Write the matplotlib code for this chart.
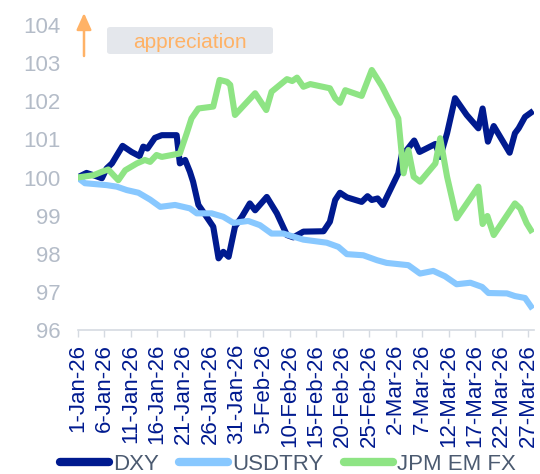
import matplotlib
matplotlib.use("Agg")
import matplotlib.pyplot as plt
from matplotlib.patches import FancyBboxPatch

plt.rcParams['font.family'] = ['Liberation Sans', 'DejaVu Sans']

# day offsets from 1-Jan-26 and index values (1-Jan-26 = 100)
dxy_day = [0, 1.7, 3, 4.6, 5.5, 6.5, 8.5, 10.2, 11.7, 12.4, 13.2, 14.6, 15.9, 18.7,
           19.3, 20.3, 21.2, 21.8, 22.8, 23.7, 25.6, 26.6, 27.5, 28.5, 29.7, 31,
           32.5, 33.5, 35.7, 37.6, 39.5, 40.7, 42.6, 46.4, 47.6, 48.6, 49.5, 50.8,
           53.6, 54.7, 55.5, 56.6, 57.6, 60.5, 61.2, 62.1, 63.5, 64.5, 67.5, 68.4,
           69.7, 71.2, 73.4, 75.6, 76.4, 77.4, 78.5, 81.5, 82.5, 83.2, 84.4, 85.5]
dxy_val = [100.0, 100.12, 100.06, 99.98, 100.24, 100.37, 100.83, 100.67, 100.56, 100.81,
           100.76, 101.04, 101.11, 101.11, 100.37, 100.46, 100.15, 99.89, 99.28, 99.10,
           98.71, 97.88, 98.05, 97.92, 98.71, 98.97, 99.32, 99.14, 99.49, 99.06,
           98.49, 98.43, 98.58, 98.59, 98.84, 99.41, 99.60, 99.48, 99.36, 99.51,
           99.41, 99.45, 99.28, 100.11, 100.63, 100.72, 100.97, 100.67, 100.88, 100.54,
           101.16, 102.08, 101.64, 101.29, 101.81, 100.94, 101.35, 100.65, 101.16, 101.29,
           101.59, 101.70]

usdtry_day = [0, 1.4, 5.5, 7.4, 9.3, 11.5, 13.7, 15.6, 18.4, 21.2, 22.5, 25.3, 27.5,
              29.4, 32.2, 34.4, 36.6, 38.8, 42.6, 47, 49.2, 50.8, 53.9, 56.5, 58.3,
              62.4, 64.6, 67.1, 69.3, 71.5, 74.1, 76.3, 77.5, 81, 82.5, 84.4, 85.5]
usdtry_val = [100.0, 99.85, 99.80, 99.76, 99.67, 99.60, 99.42, 99.23, 99.28, 99.19,
              99.06, 99.06, 98.97, 98.81, 98.86, 98.75, 98.53, 98.53, 98.37, 98.29,
              98.18, 97.99, 97.96, 97.83, 97.76, 97.70, 97.48, 97.55, 97.41, 97.20,
              97.24, 97.13, 96.97, 96.96, 96.89, 96.84, 96.62]

emfx_day = [0, 3, 4.6, 5.8, 6.8, 7.7, 9, 11.2, 12.7, 13.7, 14.9, 15.9, 19.3, 20.6,
            21.5, 22.8, 25.6, 26.8, 28.2, 28.8, 29.7, 33.5, 35.6, 36.6, 39.5, 40.5,
            41.4, 42.6, 43.9, 47.6, 48.6, 49.5, 50.5, 53.6, 55.5, 57.4, 60.5, 61.5,
            62.4, 63.4, 64.6, 67.5, 68.4, 69.7, 71.5, 75.6, 76.4, 77.3, 78.5, 82.5,
            83.5, 84.7, 85.5]
emfx_val = [100.0, 100.06, 100.15, 100.21, 100.06, 99.93, 100.19, 100.37, 100.46, 100.41,
            100.59, 100.54, 100.63, 101.16, 101.55, 101.81, 101.86, 102.56, 102.51, 102.43,
            101.64, 102.21, 101.77, 102.25, 102.58, 102.53, 102.62, 102.38, 102.45, 102.34,
            102.08, 101.96, 102.29, 102.14, 102.82, 102.40, 101.55, 100.11, 100.72, 100.02,
            99.89, 100.37, 101.03, 100.02, 98.93, 99.76, 98.78, 98.99, 98.49, 99.32,
            99.19, 98.80, 98.62]

tick_labels = ['1-Jan-26', '6-Jan-26', '11-Jan-26', '16-Jan-26', '21-Jan-26', '26-Jan-26',
               '31-Jan-26', '5-Feb-26', '10-Feb-26', '15-Feb-26', '20-Feb-26', '25-Feb-26',
               '2-Mar-26', '7-Mar-26', '12-Mar-26', '17-Mar-26', '22-Mar-26', '27-Mar-26']

navy = '#001a8f'
light_blue = '#88c8ff'
green = '#8ee484'
grey_txt = '#b4bcc8'
orange = '#ffb266'

fig = plt.figure(figsize=(5.4, 4.74), dpi=100)
ax = fig.add_axes([77.5 / 540, 144 / 474, 456 / 540, 305 / 474])

lw = 4.4
ax.plot(dxy_day, dxy_val, color=navy, lw=lw, label='DXY', solid_joinstyle='round')
ax.plot(usdtry_day, usdtry_val, color=light_blue, lw=lw, label='USDTRY', solid_joinstyle='round')
ax.plot(emfx_day, emfx_val, color=green, lw=lw, label='JPM EM FX', solid_joinstyle='round')

ax.set_xlim(0, 86)
ax.set_ylim(96, 104)
ax.set_yticks(range(96, 105))
ax.set_xticks([5 * i for i in range(len(tick_labels))])
ax.set_xticklabels(tick_labels, rotation=90, color=navy, fontsize=16)
ax.tick_params(axis='y', length=0, pad=12.5, labelcolor=grey_txt, labelsize=16)
ax.tick_params(axis='x', length=5, width=1, color='#d5dae1', pad=5)

for s in ['left', 'right', 'top']:
    ax.spines[s].set_visible(False)
ax.spines['bottom'].set_color('#d5dae1')
ax.spines['bottom'].set_linewidth(1.2)

# appreciation marker
fig.patches.append(FancyBboxPatch((107 / 540, 1 - 54 / 474), 166 / 540, 27 / 474,
                                  boxstyle='round,pad=0,rounding_size=0.006',
                                  transform=fig.transFigure, facecolor='#e4e7ec',
                                  edgecolor='none'))
fig.text(190 / 540, 1 - 42 / 474, 'appreciation', color=orange, fontsize=15,
         ha='center', va='center')
ax.annotate('', xy=(84 / 540, 1 - 13 / 474), xytext=(84 / 540, 1 - 56 / 474),
            xycoords='figure fraction', textcoords='figure fraction',
            arrowprops=dict(arrowstyle='-|>,head_length=1.0,head_width=0.45',
                            color=orange, lw=1.8, shrinkA=0, shrinkB=0))

leg = fig.legend(loc='center', bbox_to_anchor=(288 / 540, 1 - 464 / 474), ncol=3,
                 frameon=False, fontsize=16, handlelength=2.2, handletextpad=0.2,
                 columnspacing=0.9, labelcolor='#4b5a70')
for h in leg.get_lines():
    h.set_linewidth(6)
    h.set_solid_capstyle('round')

fig.savefig('out.png', dpi=100)
